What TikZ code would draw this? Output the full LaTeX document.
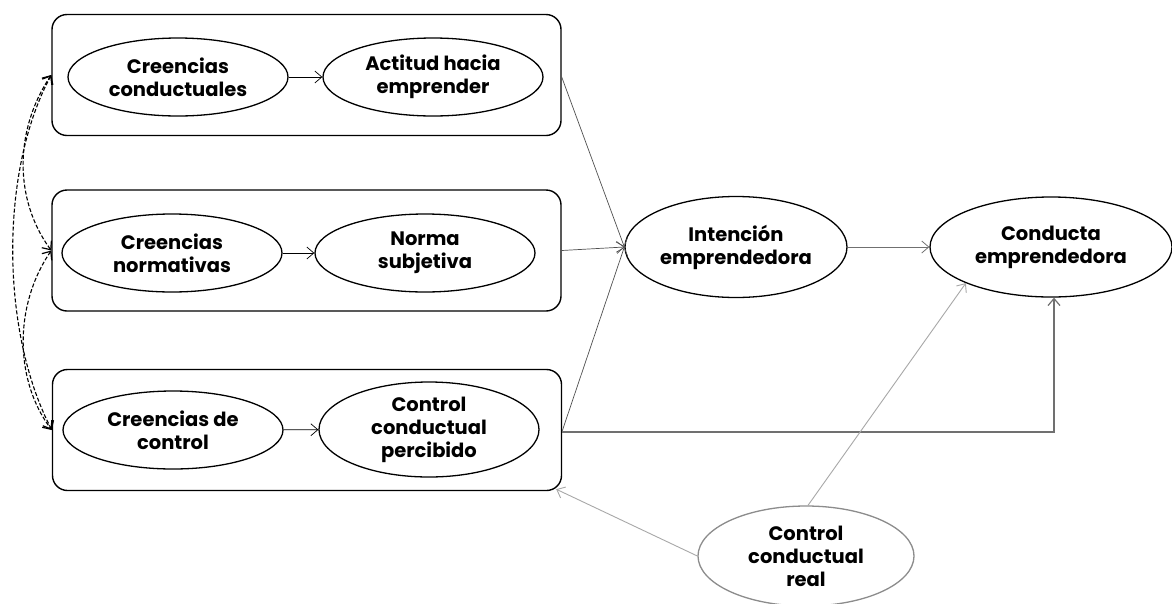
\documentclass[tikz,border=0pt]{standalone}
\usepackage{fontspec}
\setmainfont{Poppins}
\usetikzlibrary{shapes.geometric,arrows.meta,calc}

\definecolor{linkdark}{HTML}{505050}
\definecolor{linkmid}{HTML}{707070}
\definecolor{linklight}{HTML}{A8A8A8}
\definecolor{rimgrey}{HTML}{8C8C8C}

\tikzset{
  groupbox/.style={draw=black, line width=1.4pt, rounded corners=15pt,
    minimum width=509pt, minimum height=121pt, inner sep=0pt},
  concept/.style={ellipse, draw=black, line width=1.3pt, inner sep=0pt,
    minimum width=#1, minimum height=78pt, align=center,
    font=\fontsize{19.5pt}{23pt}\selectfont\bfseries},
  concept/.default=220pt,
  tip/.style={-{Straight Barb[length=7pt,width=12pt]}},
  inlink/.style={tip, draw=black, line width=0.7pt},
  convlink/.style={tip, draw=linkdark, line width=0.7pt},
  corr/.style={{Straight Barb[length=7pt,width=12pt,line width=1.2pt]}-{Straight Barb[length=7pt,width=12pt,line width=1.2pt]},
    draw=black, line width=1.1pt, dash pattern=on 4pt off 2pt},
}

\begin{document}
\begin{tikzpicture}[x=1pt, y=-1pt]
  \clip (0,0) rectangle (1172,603);
  \fill[white] (0,0) rectangle (1172,603);

  % three groups of beliefs and their derived constructs
  \node[groupbox] (b1) at (306.5,75) {};
  \node[groupbox] (b2) at (306.5,250.5) {};
  \node[groupbox] (b3) at (307,430) {};

  \node[concept] (cc) at (178,77) {Creencias\\conductuales};
  \node[concept] (ah) at (433,77) {Actitud hacia\\emprender};
  \node[concept] (cn) at (172,253) {Creencias\\normativas};
  \node[concept] (ns) at (425,253) {Norma\\subjetiva};
  \node[concept] (cd) at (173,430) {Creencias de\\control};
  \node[concept, minimum height=95pt] (cp) at (429,429.5) {Control\\conductual\\percibido};

  \draw[inlink] (cc) -- (ah);
  \draw[inlink] (cn) -- (ns);
  \draw[inlink] (cd) -- (cp);

  % intention and behaviour
  \node[concept=222pt, minimum height=101pt] (ie) at (736,247) {Intención\\emprendedora};
  \node[concept=242pt, minimum height=100pt] (ce) at (1051,247) {Conducta\\emprendedora};
  \node[concept=216pt, minimum height=100pt, draw=rimgrey] (cr) at (806,556) {Control\\conductual\\real};

  % correlations between belief groups
  \draw[corr] (b1.west) .. controls (14,130) and (14,200) .. (b2.west);
  \draw[corr] (b2.west) .. controls (14,305) and (14,380) .. (b3.west);
  \draw[corr] (b1.west) .. controls (0,170) and (0,330) .. (b3.west);

  % paths into intention
  \draw[convlink] ($(b1.east)+(0,2)$) -- (ie.west);
  \draw[convlink] (b2.east) -- (ie.west);
  \draw[convlink] ($(b3.east)+(0,1)$) -- (ie.west);
  \draw[tip, draw=linkmid, line width=0.8pt] (ie.east) -- (ce.west);

  % perceived control acting directly on behaviour
  \draw[tip, draw=linkmid, line width=1.2pt] ($(b3.east)+(0,2)$) -| ($(ce.south)+(3,0)$);

  % actual control
  \draw[tip, draw=linklight, line width=0.9pt] ($(cr.north)+(2,0)$) -- (ce.-157);
  \draw[tip, draw=linklight, line width=0.9pt] (cr.west) -- ($(b3.south east)+(-6,-2)$);
\end{tikzpicture}
\end{document}
